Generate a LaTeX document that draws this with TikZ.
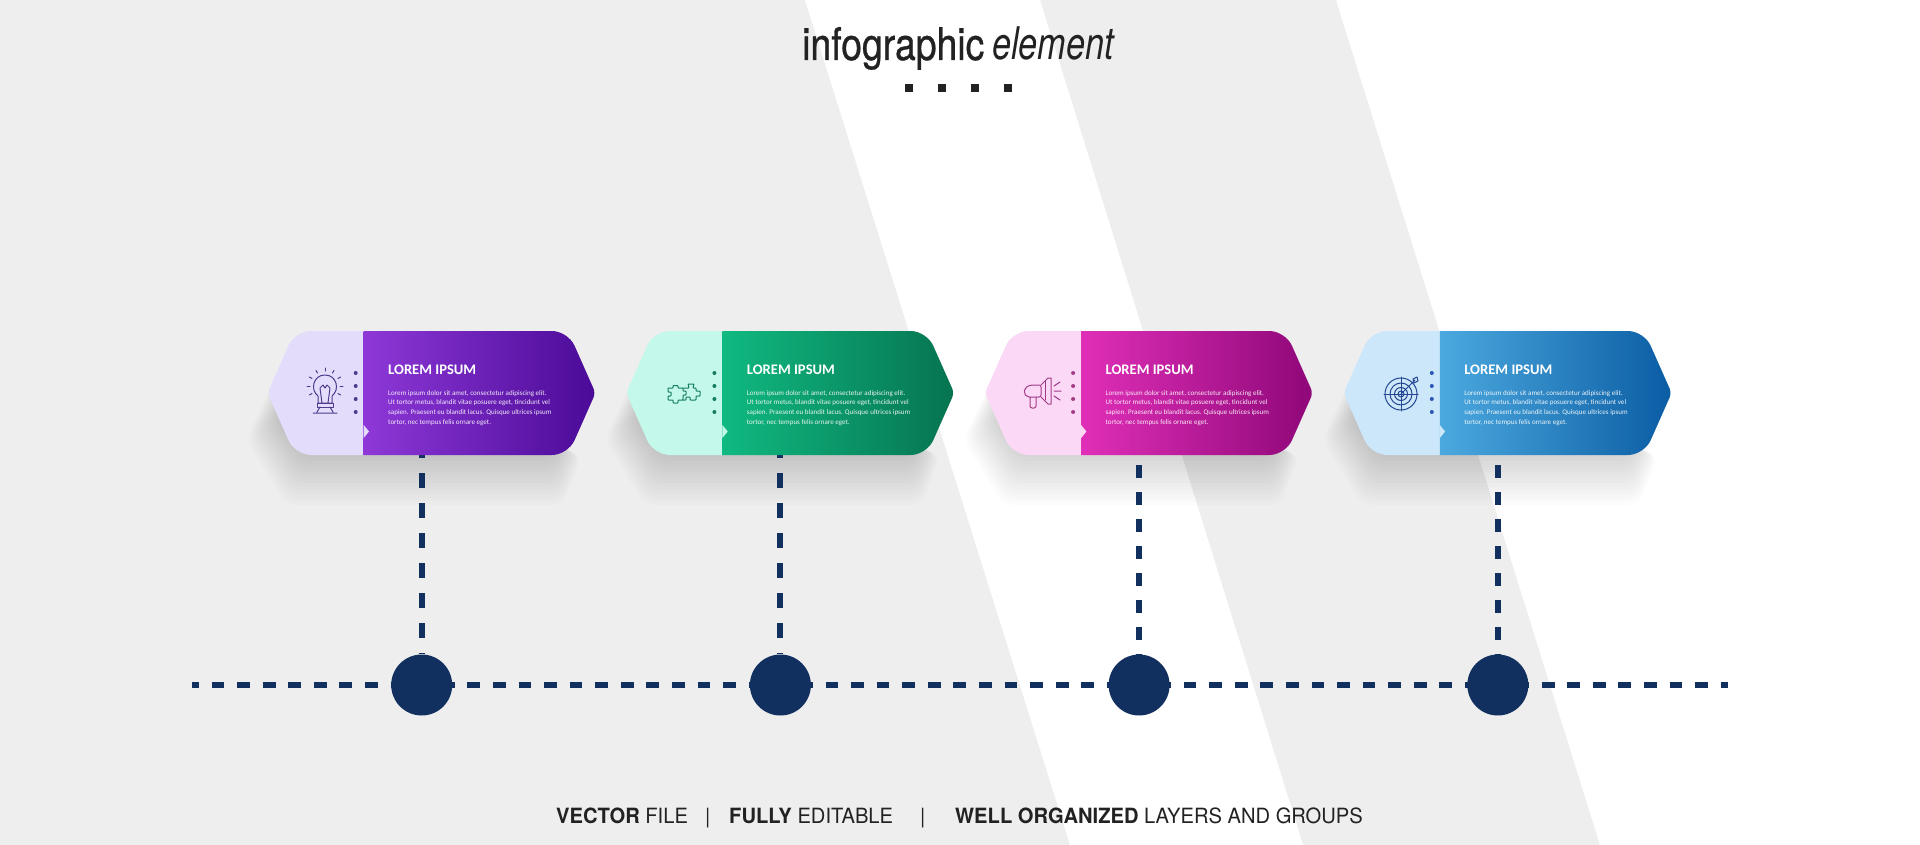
\documentclass[tikz,border=0pt]{standalone}
\usepackage{fontspec}
\newfontfamily\titlefont[FakeStretch=0.83, FakeBold=0.7]{TeX Gyre Heros}
\newfontfamily\elementfont[FakeStretch=0.76]{TeX Gyre Heros}
\newfontfamily\footfont[FakeStretch=0.96]{TeX Gyre Heros}
\newfontfamily\cardfont{Carlito}

\definecolor{bggray}{HTML}{EEEEEE}
\definecolor{navy}{HTML}{12305F}
\definecolor{ink}{HTML}{222222}
\definecolor{lightA}{HTML}{E4DCFB}
\definecolor{lightB}{HTML}{C3F8EA}
\definecolor{lightC}{HTML}{FBD9F6}
\definecolor{lightD}{HTML}{CDE7FA}
\definecolor{startA}{HTML}{8E38D8}
\definecolor{startB}{HTML}{10B981}
\definecolor{startC}{HTML}{E02FB8}
\definecolor{startD}{HTML}{4CA9DF}
\definecolor{endA}{HTML}{4A0A96}
\definecolor{endB}{HTML}{067350}
\definecolor{endC}{HTML}{8E0778}
\definecolor{endD}{HTML}{0A5CA3}
\definecolor{iconA}{HTML}{4F3B8E}
\definecolor{iconB}{HTML}{167F5F}
\definecolor{iconC}{HTML}{A33A85}
\definecolor{iconD}{HTML}{2B57B5}

\tikzset{
	hline/.style = {navy, line width = 6pt, dash pattern = on 12.79pt off 12.79pt, dash phase = 6pt},
	vline/.style = {navy, line width = 6pt},
	dot/.style = {circle, fill = navy, minimum size = 61pt, inner sep = 0pt},
	shadowlayer/.style = {black, opacity = 0.011, rounded corners = 10pt},
	heading/.style = {anchor = west, white, font = \cardfont\bfseries\fontsize{14.6}{16}\selectfont},
	bodytext/.style = {anchor = north west, align = left, inner sep = 0pt, white, opacity = 0.9, font = \cardfont\fontsize{7.05}{9.7}\selectfont},
	foot/.style = {anchor = base west, inner sep = 0pt, ink, font = \footfont\fontsize{21}{24}\selectfont},
	icon/.style = {line width = 1pt, line join = round, line cap = round},
}

\begin{document}
\begin{tikzpicture}[x = 1pt, y = -1pt]
	%	background
	\fill[bggray] (0, 0) rectangle (1920, 845);
	\fill[white] (805, 0) -- (1040, 0) -- (1303, 845) -- (1070, 845) -- cycle;
	\fill[white] (1336, 0) -- (1920, 0) -- (1920, 845) -- (1600, 845) -- cycle;
	\useasboundingbox (0, 0) rectangle (1920, 845);

	%	title
	\node[anchor = base west, inner sep = 0pt, ink, font = \titlefont\fontsize{45}{50}\selectfont] (title) at (802, 60) {infographic};
	\node[anchor = base west, inner sep = 0pt, ink, font = \elementfont\itshape\fontsize{45}{50}\selectfont] (element) at (992, 60) {element};
	\foreach \x in {909, 942, 975, 1008}
		\fill[ink] (\x - 4.25, 83.75) rectangle (\x + 4.25, 92.25);

	%	time line
	\coordinate (linestart) at (192, 685);
	\coordinate (lineend) at (1728, 685);
	\draw[hline] (linestart) -- (lineend);

	%	cards
	\foreach \i/\n/\on/\off/\ytop in {0/A/15/15/443, 1/B/15/15/443, 2/C/13.4/13.6/465, 3/D/13.4/13.6/465} {
		\begin{scope}[xshift = \i * 358.7pt]
			%	shadow
			\foreach \s in {0, ..., 15} {
				\pgfmathsetmacro{\t}{\s / 15}
				\fill[shadowlayer] ({275 + 10 * \t}, {378 + 17 * \t}) -- ({246 + 34 * \t}, {440 - 20 * \t})
					-- ({286 + 19 * \t}, {505 - 55 * \t}) -- ({563 - 13 * \t}, {505 - 55 * \t})
					-- ({582 - 22 * \t}, {455 - 15 * \t}) -- cycle;
			}

			\node[dot] (dot\n) at (421.7, 685) {};
			\coordinate (top\n) at (421.7, \ytop);
			\draw[vline, dash pattern = on \on pt off \off pt] (top\n) -- (dot\n);

			\begin{scope}
				\clip (420, 331) [rounded corners = 16pt] -- (568, 331) [rounded corners = 5pt] -- (595.5, 393) [rounded corners = 16pt] -- (568, 455)
					-- (295, 455) [rounded corners = 5pt] -- (267.5, 393) [rounded corners = 16pt] -- (295, 331) [sharp corners] -- cycle;
				\fill[light\n] (260, 325) rectangle (363.7, 460);
				\shade[left color = start\n, right color = end\n] (363.7, 325) rectangle (597, 460);
			\end{scope}
			\fill[light\n] (363.7, 425) -- (369, 431.5) -- (363.7, 438) -- cycle;

			%	dots
			\foreach \y in {373, 386, 399, 412}
				\fill[icon\n] (355.7, \y) circle (2);

			\node[heading, inner sep = 0pt] (head\n) at (388, 370) {LOREM IPSUM};
			\node[bodytext] (body\n) at (388, 390) {Lorem ipsum dolor sit amet, consectetur adipiscing elit.\\Ut tortor metus, blandit vitae posuere eget, tincidunt vel\\sapien. Praesent eu blandit lacus. Quisque ultrices ipsum\\tortor, nec tempus felis ornare eget.};
		\end{scope}
	}

	%	lamp
	\draw[icon, iconA] (318, 396)
		.. controls (310, 390) and (313, 375) .. (325, 375)
		.. controls (337, 375) and (340, 390) .. (332, 396) -- (332, 403) -- (318, 403) -- cycle;
	\draw[icon, iconA] (322, 403) -- (320, 388) -- (323, 385) -- (325, 388) -- (327, 385) -- (330, 388) -- (328, 403);
	\draw[icon, iconA] (317, 403) rectangle (333, 407);
	\draw[icon, iconA] (320, 407) -- (317, 412) (330, 407) -- (333, 412) (313, 413) -- (337, 413);
	\foreach \a in {-210, -180, ..., 30}
		\draw[icon, iconA, shift = {(325, 386)}] (\a:15) -- (\a:18);

	%	puzzle
	\draw[icon, iconB, rounded corners = 0.6pt] (668, 388) -- (673, 388) -- (673, 385.5) -- (678, 385.5) -- (678, 388) -- (683, 388)
		-- (683, 391) -- (686, 391) -- (686, 395) -- (683, 395) -- (683, 400) -- (678, 400) -- (678, 403) -- (673, 403) -- (673, 400) -- (668, 400)
		-- (668, 396) -- (671, 396) -- (671, 392) -- (668, 392) -- cycle;
	\draw[icon, iconB, rounded corners = 0.6pt] (683, 388) -- (689, 388) -- (688, 384) -- (694, 384) -- (693, 388) -- (696, 388)
		-- (696, 391) -- (700, 391) -- (700, 396) -- (696, 396) -- (696, 400) -- (690, 400) -- (690, 397) -- (686, 397) -- (686, 400) -- (683, 400);

	%	megaphone
	\draw[icon, iconC, rounded corners = 2pt] (1041, 385) -- (1030, 385) -- (1025, 388) -- (1024, 393) -- (1027, 397) -- (1041, 397) -- cycle;
	\draw[icon, iconC] (1041, 385) -- (1048, 378) -- (1051, 378) -- (1051, 404) -- (1048, 404) -- (1041, 397);
	\draw[icon, iconC] (1045, 381) -- (1045, 400);
	\draw[icon, iconC, rounded corners = 2pt] (1030, 397) -- (1030, 408) -- (1036, 408) -- (1036, 397);
	\draw[icon, iconC] (1054, 386) -- (1060, 382) (1054, 391) -- (1061, 391) (1054, 396) -- (1060, 400);

	%	target
	\foreach \r in {3, 6.5, 11, 16}
		\draw[icon, iconD!80!black] (1401, 394) circle (\r);
	\draw[icon, iconD!80!black] (1384, 394) -- (1418, 394) (1401, 377) -- (1401, 411);
	\draw[icon, iconD!80!black] (1401, 394) -- (1415, 380) (1413, 379) -- (1417, 377) -- (1418, 381) -- (1414, 383) -- cycle;

	%	footer
	\node[foot] (vector) at (556, 823) {\bfseries VECTOR \mdseries FILE};
	\node[foot] (barA) at (705, 823) {|};
	\node[foot] (fully) at (729, 823) {\bfseries FULLY \mdseries EDITABLE};
	\node[foot] (barB) at (920, 823) {|};
	\node[foot] (well) at (955, 823) {\bfseries WELL ORGANIZED \mdseries LAYERS AND GROUPS};
\end{tikzpicture}
\end{document}
